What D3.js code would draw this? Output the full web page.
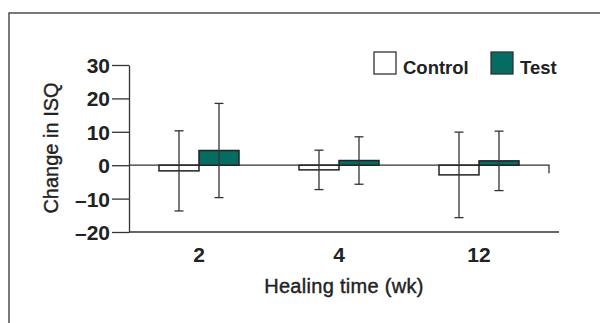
<!DOCTYPE html>
<html>
<head>
<meta charset="utf-8">
<script src="https://cdn.jsdelivr.net/npm/d3@7"></script>
<style>
  body { margin: 0; background: #fff; }
  svg { display: block; font-family: "Liberation Sans", Arial, sans-serif; }
</style>
</head>
<body>
<div id="chart"></div>
<script>
// data (mean change in ISQ, +/- SD)
let weeks = ["2", "4", "12"];
let seriesNames = ["Control", "Test"];
let controlMean = [-1.7, -1.4, -2.9];
let controlSD = [12.0, 5.9, 12.8];
let testMean = [4.4, 1.4, 1.3];
let testSD = [14.1, 7.1, 8.9];
let yTicks = [-20, -10, 0, 10, 20, 30];

let width = 600, height = 323;
let teal = "#066b60";
let ink = "#333";

let svg = d3.select("#chart").append("svg")
    .attr("width", width)
    .attr("height", height);

// outer frame, cut off on the right and bottom
svg.append("rect")
    .attr("x", 9).attr("y", 13)
    .attr("width", 620).attr("height", 330)
    .attr("fill", "none")
    .attr("stroke", ink)
    .attr("stroke-width", 1.3);

let x = d3.scaleBand().domain(weeks).range([129, 549]).padding(0);
let y = d3.scaleLinear().domain([-20, 30]).range([232, 65]);
let barW = 40;

// y axis
let yAxis = svg.append("g")
    .attr("transform", "translate(129,0)")
    .call(d3.axisLeft(y)
        .tickValues(yTicks)
        .tickSize(17)
        .tickSizeOuter(0)
        .tickPadding(2)
        .tickFormat(d => d < 0 ? "\u2013" + Math.abs(d) : d));
yAxis.attr("font-size", null);
yAxis.selectAll("path, line").attr("stroke", ink).attr("stroke-width", 1.3);
yAxis.selectAll("text")
    .attr("fill", "#222")
    .attr("font-size", 21)
    .attr("font-weight", "bold")
    .attr("dy", "0.36em");

// bottom axis line + labels
svg.append("line")
    .attr("x1", x.range()[0]).attr("x2", x.range()[1] + 10)
    .attr("y1", y(-20)).attr("y2", y(-20))
    .attr("stroke", ink).attr("stroke-width", 1.3);

let xAxis = svg.append("g")
    .attr("transform", "translate(0," + y(-20) + ")")
    .call(d3.axisBottom(x).tickSize(0).tickPadding(15));
xAxis.attr("font-size", null);
xAxis.select(".domain").remove();
xAxis.selectAll("text")
    .attr("fill", "#222")
    .attr("font-size", 21)
    .attr("font-weight", "bold");

// zero line with small drop at the end
let y0 = y(0);
svg.append("path")
    .attr("d", d3.line()([[x.range()[0], y0], [x.range()[1], y0], [x.range()[1], y0 + 8]]))
    .attr("fill", "none")
    .attr("stroke", ink)
    .attr("stroke-width", 1.3);

// bars
let rows = [];
weeks.forEach((w, i) => {
    rows.push({ week: w, name: "Control", mean: controlMean[i], sd: controlSD[i], off: -barW, fill: "#fff" });
    rows.push({ week: w, name: "Test", mean: testMean[i], sd: testSD[i], off: 0, fill: teal });
});

let cx = d => x(d.week) + x.bandwidth() / 2 + d.off;

svg.selectAll(".bar").data(rows).enter().append("rect")
    .attr("class", "bar")
    .attr("x", d => cx(d))
    .attr("y", d => y(Math.max(0, d.mean)))
    .attr("width", barW)
    .attr("height", d => Math.abs(y(d.mean) - y(0)))
    .attr("fill", d => d.fill)
    .attr("stroke", "#222")
    .attr("stroke-width", 1.5);

// error bars
let capW = 9;
let err = svg.selectAll(".err").data(rows).enter().append("g")
    .attr("class", "err")
    .attr("stroke", ink)
    .attr("stroke-width", 1.3);
err.append("line")
    .attr("x1", d => cx(d) + barW / 2).attr("x2", d => cx(d) + barW / 2)
    .attr("y1", d => y(d.mean + d.sd)).attr("y2", d => y(d.mean - d.sd));
err.append("line")
    .attr("x1", d => cx(d) + barW / 2 - capW / 2).attr("x2", d => cx(d) + barW / 2 + capW / 2)
    .attr("y1", d => y(d.mean + d.sd)).attr("y2", d => y(d.mean + d.sd));
err.append("line")
    .attr("x1", d => cx(d) + barW / 2 - capW / 2).attr("x2", d => cx(d) + barW / 2 + capW / 2)
    .attr("y1", d => y(d.mean - d.sd)).attr("y2", d => y(d.mean - d.sd));

// axis titles
svg.append("text")
    .attr("x", 344).attr("y", 293)
    .attr("text-anchor", "middle")
    .attr("fill", "#222")
    .attr("stroke", "#222")
    .attr("stroke-width", 0.4)
    .attr("font-size", 20)
    .style("letter-spacing", "0.3px")
    .text("Healing time (wk)");

svg.append("text")
    .attr("transform", "translate(58,148) rotate(-90)")
    .attr("text-anchor", "middle")
    .attr("fill", "#222")
    .attr("stroke", "#222")
    .attr("stroke-width", 0.4)
    .attr("font-size", 20)
    .text("Change in ISQ");

// legend
let legendX = [374, 491];
let legend = svg.selectAll(".legend").data(seriesNames).enter().append("g")
    .attr("class", "legend")
    .attr("transform", (d, i) => "translate(" + legendX[i] + ",52)");
legend.append("rect")
    .attr("width", 22).attr("height", 22)
    .attr("fill", (d, i) => i === 0 ? "#fff" : teal)
    .attr("stroke", ink)
    .attr("stroke-width", 1.3);
legend.append("text")
    .attr("x", 29).attr("y", 22)
    .attr("fill", "#222")
    .attr("font-size", 18.5)
    .attr("font-weight", "bold")
    .text(d => d);
</script>
</body>
</html>
